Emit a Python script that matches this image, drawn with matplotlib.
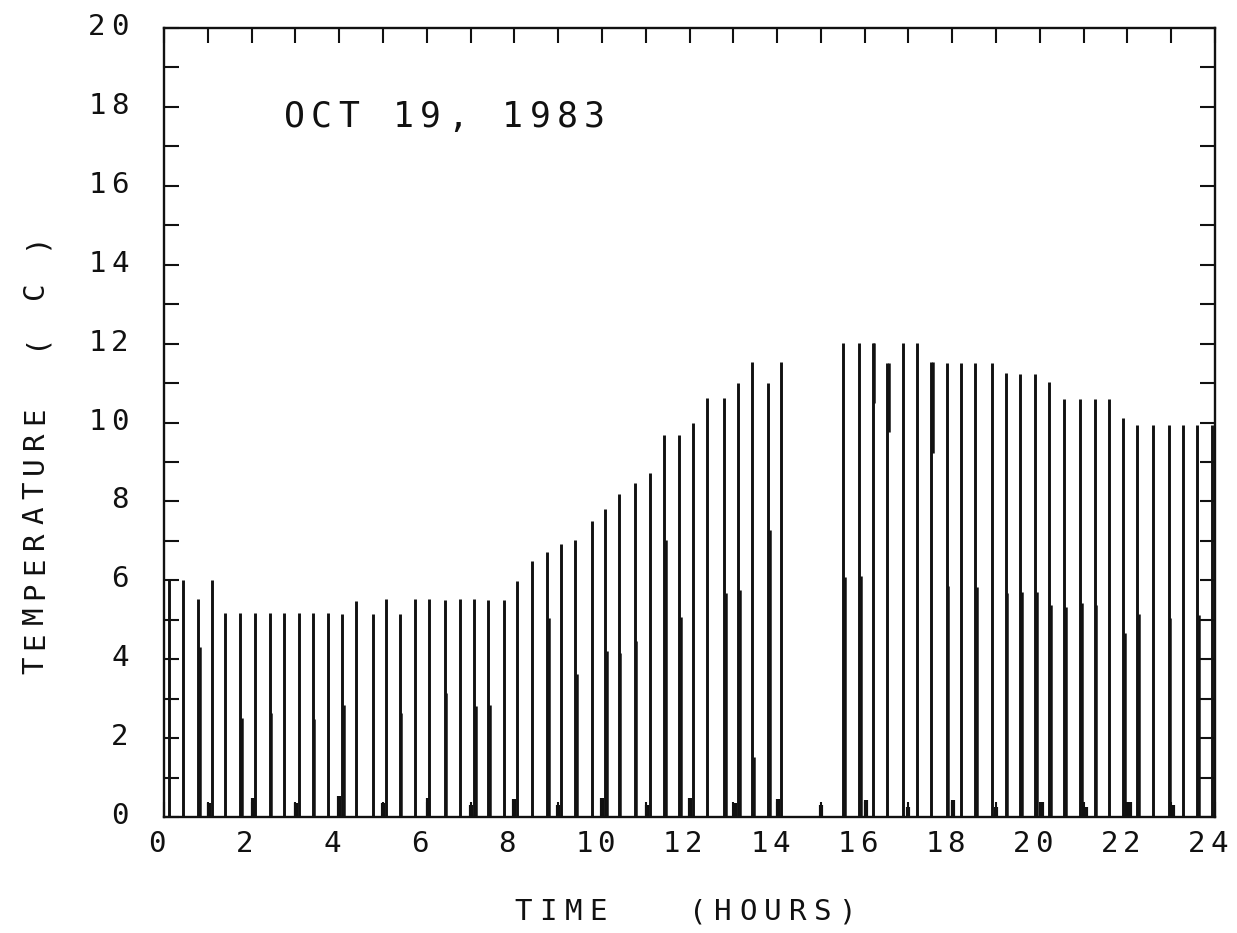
import matplotlib
matplotlib.use("Agg")
import matplotlib.pyplot as plt
from matplotlib.ticker import MultipleLocator, NullFormatter
from matplotlib.transforms import offset_copy, IdentityTransform, Affine2D

# Sample times (hours) and temperatures (deg C)
times = [0.12, 0.43, 0.78, 1.10, 1.40, 1.74, 2.08, 2.41, 2.74, 3.08, 3.40, 3.74,
         4.07, 4.39, 4.77, 5.07, 5.38, 5.74, 6.06, 6.41, 6.77, 7.08, 7.40, 7.76,
         8.07, 8.40, 8.75, 9.07, 9.39, 9.78, 10.08, 10.38, 10.75, 11.09, 11.42,
         11.76, 12.08, 12.40, 12.79, 13.11, 13.43, 13.80, 14.10, 15.51, 15.88,
         16.18, 16.52, 16.88, 17.20, 17.52, 17.87, 18.20, 18.52, 18.90, 19.22,
         19.55, 19.89, 20.22, 20.56, 20.92, 21.25, 21.57, 21.91, 22.23, 22.58,
         22.94, 23.27, 23.59, 23.93]
temps = [6.00, 6.00, 5.53, 6.00, 5.18, 5.18, 5.18, 5.18, 5.18, 5.18, 5.18, 5.16,
         5.14, 5.48, 5.15, 5.53, 5.15, 5.53, 5.53, 5.49, 5.53, 5.53, 5.49, 5.49,
         5.99, 6.50, 6.73, 6.92, 7.02, 7.51, 7.80, 8.19, 8.47, 8.71, 9.68,
         9.68, 9.98, 10.63, 10.63, 11.01, 11.54, 10.99, 11.54, 12.02, 12.02,
         12.02, 11.50, 12.02, 12.02, 11.54, 11.52, 11.50, 11.50, 11.50, 11.25,
         11.22, 11.22, 11.02, 10.60, 10.60, 10.60, 10.60, 10.11, 9.94, 9.94,
         9.94, 9.94, 9.94, 9.94]

# Second (overprinted) trace segments that make parts of some bars heavier
over_times = [0.78, 1.74, 2.41, 3.40, 4.07, 5.38, 6.41, 7.08, 7.40, 8.75,
              9.39, 10.08, 10.38, 10.75, 11.42, 11.76, 12.79, 13.11, 13.43, 13.80,
              15.51, 15.88, 16.18, 16.52, 17.52, 17.87, 18.52, 19.22, 19.55, 19.89,
              20.22, 20.56, 20.92, 21.25, 21.91, 22.23, 22.94, 23.59]
over_lo = [0, 0, 0, 0, 0, 0, 0, 0, 0, 0,
           0, 0, 0, 0, 0, 0, 0, 0, 0, 0,
           0, 0, 10.50, 9.76, 9.22, 0, 0, 0, 0, 0,
           0, 0, 0, 0, 0, 0, 0, 0]
over_hi = [4.30, 2.50, 2.63, 2.48, 2.84, 2.64, 3.14, 2.81, 2.84, 5.04,
           3.62, 4.22, 4.17, 4.46, 7.02, 5.08, 5.68, 5.75, 1.53, 7.27,
           6.09, 6.11, 12.02, 11.50, 11.54, 5.86, 5.84, 5.69, 5.70, 5.70,
           5.37, 5.33, 5.43, 5.37, 4.66, 5.15, 5.04, 5.12]

# Small hourly marks near the baseline
mark_times = [1.03, 2.03, 3.02, 4.00, 5.00, 6.03, 7.02, 8.00, 9.00, 10.00, 11.02,
              12.02, 13.03, 14.03, 15.00, 16.02, 17.00, 18.02, 19.00, 20.05,
              21.05, 22.05, 23.05]
mark_vals = [0.35, 0.49, 0.35, 0.53, 0.35, 0.48, 0.30, 0.45, 0.30, 0.48, 0.30,
             0.48, 0.35, 0.45, 0.30, 0.43, 0.25, 0.43, 0.25, 0.39, 0.25, 0.39, 0.30]

x_ticks = list(range(0, 25, 2))
y_ticks = list(range(0, 21, 2))
title_text = "OCT 19, 1983"
x_label = "TIME   (HOURS)"
y_label = "TEMPERATURE  ( C )"

FONT = "DejaVu Sans Mono"
INK = "#111111"

fig = plt.figure(figsize=(12.37, 9.33), dpi=100)
ax = fig.add_axes([0.1326, 0.1243, 0.8496, 0.8457])

ax.vlines(times, 0, temps, colors=INK, linewidth=2.1)
ax.vlines([t + 0.035 for t in over_times], over_lo, over_hi, colors=INK,
          linewidth=1.8)
ax.vlines(mark_times, 0, mark_vals, colors=INK, linewidth=3.0)

ax.set_xlim(0, 24)
ax.set_ylim(0, 20)

ax.xaxis.set_major_locator(MultipleLocator(2))
ax.xaxis.set_minor_locator(MultipleLocator(1))
ax.yaxis.set_major_locator(MultipleLocator(2))
ax.yaxis.set_minor_locator(MultipleLocator(1))
ax.xaxis.set_major_formatter(NullFormatter())
ax.yaxis.set_major_formatter(NullFormatter())

ax.tick_params(axis="both", which="both", direction="in", length=11, width=1.5,
               top=True, right=True, color=INK)

for s in ax.spines.values():
    s.set_linewidth(1.7)
    s.set_color(INK)


def spaced(px, s, pitch, size, anchor="center", vertical=False, dx=0, dy=0):
    """Draw string s one glyph at a time with a fixed pitch (pixels),
    starting from display point px."""
    base = IdentityTransform() + Affine2D().translate(*px)
    n = len(s)
    if anchor == "center":
        start = -(n - 1) / 2.0 * pitch
    elif anchor == "right":
        start = -(n - 1) * pitch
    else:
        start = 0.0
    for i, ch in enumerate(s):
        if ch == " ":
            continue
        off = start + i * pitch
        if vertical:
            tr = offset_copy(base, fig=fig, x=dx, y=dy + off, units="dots")
            fig.text(0, 0, ch, transform=tr, fontfamily=FONT, fontsize=size,
                     rotation=90, ha="center", va="center", color=INK)
        else:
            tr = offset_copy(base, fig=fig, x=dx + off, y=dy, units="dots")
            fig.text(0, 0, ch, transform=tr, fontfamily=FONT, fontsize=size,
                     ha="center", va="center", color=INK)


# tick labels, positioned from the axes' own transforms
for v in y_ticks:
    p = ax.get_yaxis_transform().transform((0, v))
    spaced(p, str(v), 23, 21, anchor="right", dx=-44, dy=1)

for v in x_ticks:
    p = ax.get_xaxis_transform().transform((v, 0))
    spaced(p, str(v), 22, 21, anchor="center", dx=-7, dy=-27)

# annotation inside the plot
p = ax.transData.transform((2.72, 17.75))
spaced(p, title_text, 27.3, 25, anchor="left", dx=11, dy=0)

# axis labels
ax_box = ax.get_position()
W, H = fig.bbox.width, fig.bbox.height
cx = (ax_box.x0 + ax_box.x1) / 2 * W
spaced((cx, 0), x_label, 25, 21, anchor="center", dx=-4, dy=H - 912)
spaced((35, 0), y_label, 25, 21, anchor="left", vertical=True, dx=0,
       dy=H - 665)

fig.savefig("out.png", dpi=100, facecolor="white")
